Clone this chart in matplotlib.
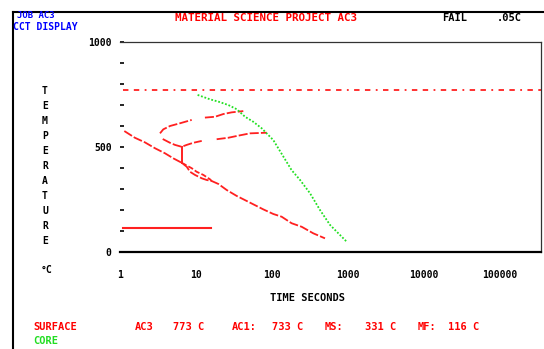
import numpy as np
import matplotlib.pyplot as plt
from matplotlib.lines import Line2D

W, H = 544, 349

# core cooling curve (green)
core_t = [10.5, 15.3, 19.7, 26.6, 34.3, 44.2, 56.8, 73.2, 104, 181, 234, 316, 428, 580, 785, 961]
core_T = [748, 727, 716, 700, 680, 644, 620, 589, 533, 390, 343, 280, 200, 129, 81, 49]

# surface cooling curve (red)
surf_t = [1.14, 1.57, 2.13, 2.89, 3.91, 5.03, 6.48, 7.55, 8.34, 9.70, 11.9, 13.8, 16.1,
          19.7, 25.4, 34.3, 51.4, 76.8, 104, 134, 181, 246, 349, 498]
surf_T = [576, 544, 522, 494, 470, 446, 425, 406, 382, 367, 351, 343, 338,
          324, 295, 267, 235, 203, 181, 168, 137, 120, 89, 65]
loop_t = [6.48, 8.78, 10.2, 12.5, 15.3, 16.1]
loop_T = [425, 399, 382, 367, 346, 338]

# transformation start lines
upper_t = [3.36, 3.71, 4.55, 6.16, 8.78, np.nan, 13.1, 17.8, 22.9, 29.5, 41.9]
upper_T = [565, 584, 600, 613, 629, np.nan, 640, 644, 657, 665, 671]
lower_t = [3.65, 4.55, 5.29, 6.48, 7.55, 9.21, 11.9, np.nan, 18.7, 26.6, 36.0, 51.4, 85.2]
lower_T = [538, 520, 510, 501, 510, 520, 529, np.nan, 537, 544, 554, 565, 568]
vert_t = [6.6, 6.6]
vert_T = [501, 425]

ac3 = 773
ac1 = 733
ms = 331
mf = 116
mf_t = [1.1, 15.7]

xticks = [1, 10, 100, 1000, 10000, 100000]
xlabels = ['1', '10', '100', '1000', '10000', '100000']
yticks = [0, 500, 1000]

mono = dict(family='DejaVu Sans Mono', weight='bold')

def px(x, y):
    return x / W, 1 - y / H

fig = plt.figure(figsize=(W / 100, H / 100), dpi=100)
fig.patch.set_facecolor('white')
ax = fig.add_axes([120 / W, 1 - 252 / H, 421 / W, 210 / H])

ax.plot(surf_t, surf_T, color='#ff2020', lw=1.3, ls=(0, (5, 1.2)))
ax.plot(loop_t, loop_T, color='#ff2020', lw=1.3, ls=(0, (3, 1.2)))
ax.plot(upper_t, upper_T, color='#ff2020', lw=1.3, ls=(0, (5, 1.2)))
ax.plot(lower_t, lower_T, color='#ff2020', lw=1.3, ls=(0, (5, 1.2)))
ax.plot(vert_t, vert_T, color='#ff2020', lw=1.4)
ax.plot(core_t, core_T, color='#22e022', lw=1.3, ls=(0, (1, 1)))
ax.plot(mf_t, [mf, mf], color='#ff2020', lw=1.5)
ax.axhline(ac3, xmin=0.008, color='#ff2020', lw=1.3, ls=(0, (3, 3, 3, 3, 1, 3)))

ax.set_xscale('log')
ax.set_xlim(1, 10 ** (421 / 76))
ax.set_ylim(0, 1000)
ax.set_xticks(xticks)
ax.set_xticklabels(xlabels, **mono, fontsize=7)
ax.xaxis.set_minor_locator(plt.NullLocator())
ax.tick_params(axis='x', length=0, pad=13)
ax.set_yticks(yticks)
ax.set_yticklabels(['0', '500', '1000'], **mono, fontsize=7)
ax.set_yticks(np.arange(100, 1000, 100), minor=True)
ax.tick_params(axis='y', which='both', direction='in', length=3, width=1.2, pad=6)

ax.spines['left'].set_visible(False)
ax.spines['bottom'].set_linewidth(1.6)
ax.spines['top'].set_linewidth(0.9)
ax.spines['right'].set_linewidth(0.9)
for s in ['top', 'right']:
    ax.spines[s].set_color('#333333')

# outer frame
fig.add_artist(Line2D([13 / W, 1], [1 - 12 / H, 1 - 12 / H], color='black', lw=1.5))
fig.add_artist(Line2D([13 / W, 13 / W], [0, 1 - 12 / H], color='black', lw=1.5))

fig.text(*px(17, 16), 'JOB AC3', color='blue', fontsize=6.5, va='center', **mono)
fig.text(*px(13, 27), 'CCT DISPLAY', color='blue', fontsize=7, va='center', **mono)
fig.text(*px(175, 18), 'MATERIAL SCIENCE PROJECT AC3', color='red', fontsize=7.8, va='center', **mono)
fig.text(*px(442, 18), 'FAIL', color='black', fontsize=7.5, va='center', **mono)
fig.text(*px(497, 18), '.05C', color='black', fontsize=7.5, va='center', **mono)

fig.text(*px(45, 166), '\n'.join('TEMPERATURE'), color='black', fontsize=7, ha='center',
         va='center', linespacing=1.62, **mono)
fig.text(*px(46, 270), '°C', color='black', fontsize=7, ha='center', va='center', **mono)
fig.text(*px(307, 298), 'TIME SECONDS', color='black', fontsize=7.5, ha='center', va='center', **mono)

fig.text(*px(33, 327), 'SURFACE', color='red', fontsize=7.5, va='center', **mono)
fig.text(*px(135, 327), 'AC3', color='red', fontsize=7.5, va='center', **mono)
fig.text(*px(173, 327), f'{ac3} C', color='red', fontsize=7.5, va='center', **mono)
fig.text(*px(232, 327), 'AC1:', color='red', fontsize=7.5, va='center', **mono)
fig.text(*px(272, 327), f'{ac1} C', color='red', fontsize=7.5, va='center', **mono)
fig.text(*px(325, 327), 'MS:', color='red', fontsize=7.5, va='center', **mono)
fig.text(*px(365, 327), f'{ms} C', color='red', fontsize=7.5, va='center', **mono)
fig.text(*px(418, 327), 'MF:', color='red', fontsize=7.5, va='center', **mono)
fig.text(*px(448, 327), f'{mf} C', color='red', fontsize=7.5, va='center', **mono)
fig.text(*px(33, 341), 'CORE', color='#22dd22', fontsize=7.5, va='center', **mono)

fig.savefig('out.png', dpi=100, facecolor='white')
